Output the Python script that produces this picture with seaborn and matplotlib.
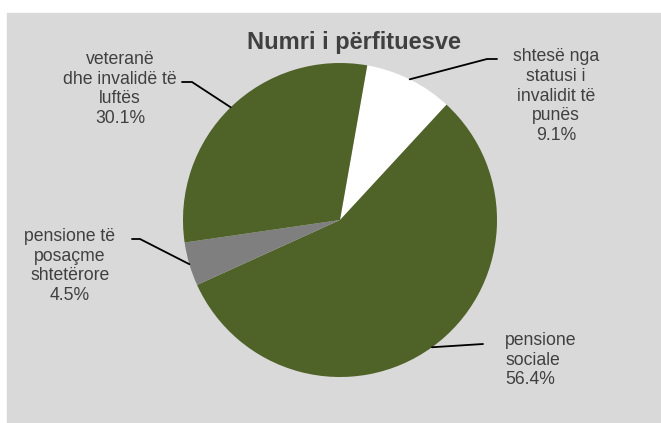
"""
Pie chart - Numri i përfituesve
"""

import numpy as np
import matplotlib
matplotlib.use("Agg")
import matplotlib.pyplot as plt
from matplotlib.patches import Rectangle
import seaborn as sns

# ---------- DATA ----------
labels = [
    "shtesë nga\nstatusi i\ninvalidit të\npunës",
    "pensione\nsociale",
    "pensione të\nposaçme\nshtetërore",
    "veteranë\ndhe invalidë të\nluftës",
]
shares = [9.1, 56.4, 4.5, 30.1]
colors = ["#ffffff", "#4f6228", "#7f7f7f", "#4f6228"]
title = "Numri i përfituesve"

# ---------- STYLE ----------
sns.set_style("white")
plt.rcParams["font.family"] = ["Liberation Sans", "DejaVu Sans"]
TXT = "#404040"

W, H = 661, 423
fig = plt.figure(figsize=(W / 100, H / 100), dpi=100)
ax = fig.add_axes([0, 0, 1, 1])

# gray chart area (pixel coords, y up)
ax.add_patch(Rectangle((7, 0), W - 7, H - 13, color="#d9d9d9", zorder=0))

cx, cy, r = 340, H - 220, 157
wedges, _ = ax.pie(shares, colors=colors, startangle=80, counterclock=False,
                   center=(cx, cy), radius=r, wedgeprops=dict(linewidth=0))
ax.set_xlim(0, W)
ax.set_ylim(0, H)
ax.set_aspect("equal")
ax.axis("off")

# label blocks: (elbow, line end, text pos, ha) in pixel coords (y down)
layout = [
    ((487, 59), (497, 59), (556, 96), "center"),
    ((483, 344), (483, 344), (505, 360), "left"),
    ((140, 239), (132, 239), (70, 266), "center"),
    ((192, 82), (182, 82), (120, 89), "center"),
]

for w, lab, pct, (elb, end, tpos, ha) in zip(wedges, labels, shares, layout):
    mid = np.deg2rad((w.theta1 + w.theta2) / 2)
    ex, ey = cx + r * np.cos(mid), cy + r * np.sin(mid)
    ax.plot([ex, elb[0], end[0]], [ey, H - elb[1], H - end[1]],
            color="black", lw=1.3, zorder=3)
    ax.text(tpos[0], H - tpos[1], f"{lab}\n{pct:.1f}%", ha=ha, va="center",
            multialignment=ha, fontsize=12.7, color=TXT, linespacing=1.2)

ax.text(354, H - 42, title, ha="center", va="center", fontsize=17,
        fontweight="bold", color=TXT)

fig.savefig("out.png", dpi=100, facecolor="white")
